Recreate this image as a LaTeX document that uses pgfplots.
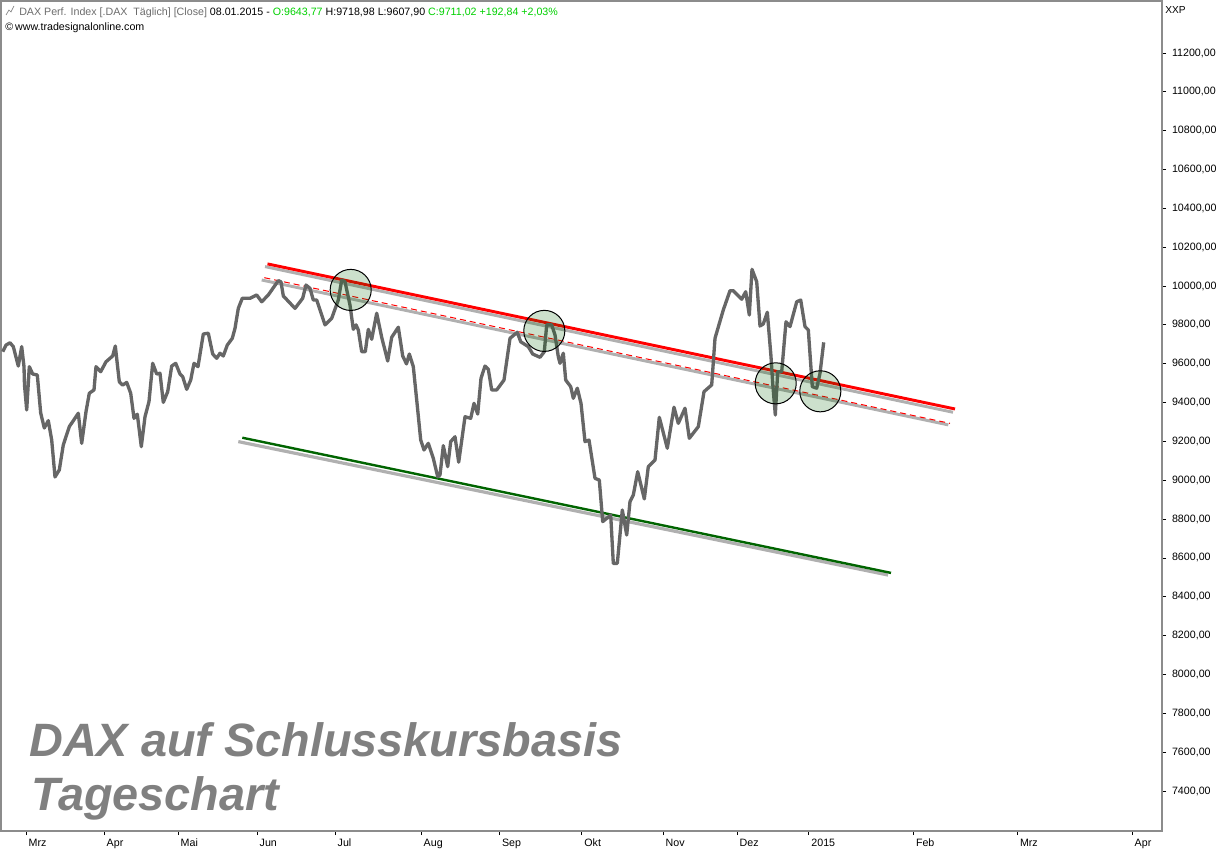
\documentclass[border=0pt]{standalone}
\usepackage{fontspec}
\setmainfont{Liberation Sans}
\usepackage{pgfplots}
\pgfplotsset{compat=1.18}
\definecolor{dax}{HTML}{666666}
\definecolor{shadow}{HTML}{B0B0B0}
\definecolor{frame}{HTML}{8C8C8C}
\definecolor{hgreen}{HTML}{00D000}
\definecolor{dgreen}{HTML}{006400}
\begin{document}
\begin{tikzpicture}[x=0.75pt,y=0.75pt]
\path[use as bounding box] (0,0) rectangle (1226,850);
\begin{axis}[
  at={(0.75pt,14.25pt)},anchor=south west,
  scale only axis,width=870.75pt,height=622.5pt,
  xmin=1,xmax=1162,ymin=7194,ymax=11467.7,
  axis line style={frame,line width=1pt},
  ytick pos=right,xtick pos=bottom,
  clip=true,
  scaled y ticks=false,
  /pgf/number format/assume math mode=true,
  /pgf/number format/fixed,
  /pgf/number format/use comma,
  /pgf/number format/1000 sep={},
  /pgf/number format/precision=2,
  /pgf/number format/fixed zerofill,
  ytick={7400,7600,7800,8000,8200,8400,8600,8800,9000,9200,9400,9600,9800,10000,10200,10400,10600,10800,11000,11200},
  ticklabel style={font=\fontsize{8}{10}\selectfont},
  tick style={black,line width=0.6pt},
  tick align=outside,
  major tick length=3pt,
  xtick={26,104,178,257,335,421,499.3,581.7,663,737,808.7,913.3,1017.3,1132},
  xticklabels={Mrz,Apr,Mai,Jun,Jul,Aug,Sep,Okt,Nov,Dez,2015,Feb,Mrz,Apr},
  x tick label style={anchor=north west,xshift=-1.5pt,yshift=1pt,text height=6pt,text depth=2pt},
  y tick label style={xshift=1pt},
]
\addplot[shadow,line width=2.2pt] coordinates {(265,10100) (953,9350)};
\addplot[red,line width=2.2pt] coordinates {(267.5,10114) (955,9367)};
\addplot[shadow,line width=2.2pt] coordinates {(261.7,10031) (948.3,9285)};
\addplot[red,line width=0.75pt,dash pattern=on 4.5pt off 3pt] coordinates {(264.3,10043) (950,9293)};
\addplot[shadow,line width=2.4pt] coordinates {(238.3,9199) (888,8512)};
\addplot[dgreen,line width=1.8pt] coordinates {(242.3,9219) (891,8523)};
\addplot[dax,line width=2.5pt,line join=round] coordinates {
(2.7,9662)(6,9696)(10,9708)(13.3,9688)(18.3,9588)(21.7,9688)(24,9585)(24.5,9490)(26.7,9362)(29.3,9585)
(32.7,9547)(37.3,9542)(40.7,9346)(44.3,9269)(48.3,9307)(51.7,9207)(55,9017)(59.3,9053)(63.3,9182)(69.3,9276)
(78.3,9345)(81.7,9190)(86,9353)(89.3,9448)(94,9465)(96,9585)(100.7,9559)(106,9610)(112.7,9640)(115.3,9691)
(119.3,9507)(122.7,9490)(126.7,9504)(130.7,9448)(134,9319)(137.3,9340)(141.3,9173)(145,9327)(149,9405)(152.7,9602)
(156.7,9547)(160,9551)(163.3,9401)(167.7,9456)(171.7,9588)(175.7,9602)(180,9547)(182.7,9533)(186.7,9468)(190.7,9516)
(194,9602)(198,9585)(203.3,9753)(208.3,9757)(212.7,9650)(216.7,9628)(220,9654)(223.3,9640)(227.3,9696)(232.3,9731)
(235,9782)(238.3,9885)(242.3,9937)(250,9937)(256.7,9954)(261.7,9919)(268.3,9954)(278.3,10028)(281,10021)(283.3,9949)
(295,9885)(302.7,9937)(306,10005)(310,9988)(313.3,9928)(316.7,9928)(325,9800)(331.7,9834)(338.3,9928)(341.7,10031)
(345,10022)(350,9902)(353.3,9777)(356,9800)(358.3,9774)(361.7,9662)(365.3,9662)(368.3,9777)(371.7,9726)(376.7,9860)
(381.7,9736)(387.7,9614)(391.7,9736)(398.3,9788)(402.7,9640)(406.5,9599)(409.3,9650)(413.3,9585)(416.7,9413)(420.7,9207)
(424,9156)(428.3,9190)(433.3,9113)(437.7,9018)(440,9027)(443.3,9178)(447.7,9070)(450.7,9199)(455,9224)(458.7,9093)
(465,9327)(470.7,9319)(474,9396)(477.7,9341)(481,9525)(485,9588)(488.3,9571)(491.7,9465)(496.7,9465)(504,9516)
(510,9731)(517.3,9762)(520.7,9713)(528.3,9688)(532.7,9650)(540,9633)(544.3,9662)(546.7,9800)(551.7,9800)(555,9748)
(558.3,9636)(560,9602)(563.3,9654)(565.7,9516)(570.7,9482)(573.3,9422)(577.3,9474)(581,9396)(585,9199)(589,9207)
(595,9010)(599.3,9001)(602.7,8787)(610.7,8821)(613.3,8572)(617.3,8572)(622.3,8847)(626.7,8718)(630,8890)(633.3,8924)
(637.7,9044)(644.3,8904)(648.3,9070)(655,9104)(659.3,9324)(667.3,9165)(674,9376)(678.3,9293)(685,9371)(689.3,9216)
(698.3,9276)(704,9456)(711.7,9491)(715,9731)(723.3,9877)(730,9976)(733.3,9976)(741.7,9932)(745.7,9971)(749.3,9851)
(752,10086)(756.7,10022)(760,9794)(763.3,9805)(767.3,9865)(771,9636)(772.7,9499)(775.3,9336)(777.7,9559)(781.7,9559)
(786,9816)(790,9791)(796.7,9919)(800.7,9928)(805,9791)(808.3,9774)(812.3,9482)(816.7,9474)(820,9551)(823.7,9710)
};
\addplot[only marks,mark=*,mark size=15.4pt,mark options={draw=black,line width=0.75pt,fill=dgreen,fill opacity=0.2,draw opacity=1}] coordinates {
(350.7,9980)(544.3,9769)(775.7,9499)(820.3,9458)};
\end{axis}
\node[anchor=base west,text=gray,font=\fontsize{35.1}{40}\selectfont\bfseries\itshape,inner sep=0pt] at (29,94) {DAX auf Schlusskursbasis};
\node[anchor=base west,text=gray,font=\fontsize{35.1}{40}\selectfont\bfseries\itshape,inner sep=0pt] at (31,39.5) {Tageschart};
\node[anchor=base west,inner sep=0pt,font=\fontsize{8}{9}\selectfont] at (19,834) {\textcolor{gray!85!black}{DAX Perf. Index [.DAX\ \ Täglich] [Close]} 08.01.2015 - \textcolor{hgreen}{O:9643,77} H:9718,98 L:9607,90 \textcolor{hgreen}{C:9711,02 +192,84 +2,03\%}};
\node[anchor=base west,inner sep=0pt,font=\fontsize{8}{9}\selectfont] at (5,819) {©\hspace{1.5pt}www.tradesignalonline.com};
\node[anchor=base west,inner sep=0pt,font=\fontsize{7.6}{9}\selectfont] at (1165,836) {XXP};
\draw[gray,line width=0.5pt] (6,835)--(9,840)--(11,838)--(14,844);
\end{tikzpicture}
\end{document}
